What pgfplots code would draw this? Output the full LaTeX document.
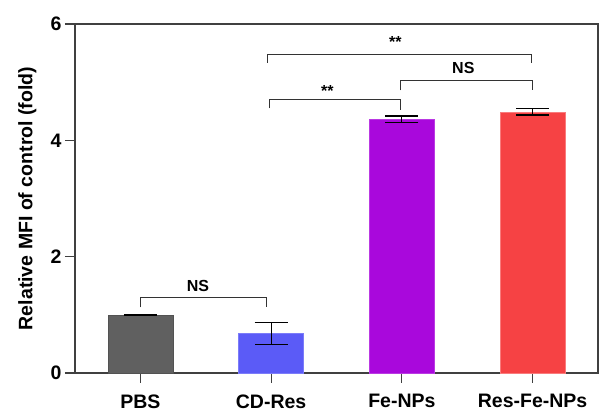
\documentclass[border=0pt]{standalone}
\usepackage{pgfplots}
\pgfplotsset{compat=1.18}
\usepackage{fontspec}
\setmainfont{Liberation Sans}
\definecolor{cpbs}{HTML}{606060}
\definecolor{ccd}{HTML}{5B5BF7}
\definecolor{cfe}{HTML}{A908DC}
\definecolor{cres}{HTML}{F64244}
\definecolor{axc}{HTML}{404040}
\begin{document}
\begin{tikzpicture}
\begin{axis}[
  scale only axis, width=523pt, height=349pt,
  xmin=-0.5, xmax=3.5, ymin=0, ymax=6,
  xtick={0,1,2,3},
  xticklabels={PBS,CD-Res,Fe-NPs,Res-Fe-NPs},
  ytick={0,2,4,6},
  tick align=outside,
  xtick pos=bottom, ytick pos=left,
  major tick length=10pt,
  minor tick num=0,
  axis line style={axc, line width=1.4pt},
  every tick/.style={axc, line width=1.2pt},
  /pgf/number format/assume math mode=true,
  tick label style={font=\fontsize{19.5}{23}\selectfont\bfseries},
  xticklabel style={yshift=-8pt},
  ylabel={Relative MFI of control (fold)},
  ylabel style={font=\fontsize{19.5}{23}\selectfont\bfseries, at={(axis description cs:0,0.5)}, anchor=south, yshift=35pt},
  ybar, bar width=65pt, bar shift=0pt,
  error bars/y dir=both, error bars/y explicit,
  error bars/error bar style={black, line width=1.2pt},
  error bars/error mark options={rotate=90, mark size=16.5pt, line width=1.2pt, black},
  clip=false,
]
\addplot[fill=cpbs, draw=cpbs!85!black] coordinates {(0,1.0) +- (0,0.012)};
\addplot[fill=ccd, draw=ccd!80!white] coordinates {(1,0.68) +- (0,0.195)};
\addplot[fill=cfe, draw=cfe!80!white] coordinates {(2,4.36) +- (0,0.06)};
\addplot[fill=cres, draw=cres!70!white] coordinates {(3,4.49) +- (0,0.055)};
% significance brackets
\draw[black!80, line width=1pt] (axis cs:0,1.13) -- (axis cs:0,1.30) -- (axis cs:0.966,1.30) -- (axis cs:0.966,1.13);
\node[font=\fontsize{16}{18}\selectfont\bfseries, inner sep=0pt] at (axis cs:0.44,1.50) {NS};
\draw[black!80, line width=1pt] (axis cs:0.99,4.55) -- (axis cs:0.99,4.70) -- (axis cs:1.99,4.70) -- (axis cs:1.99,4.53);
\node[font=\fontsize{16}{18}\selectfont\bfseries, inner sep=0pt, anchor=north] at (axis cs:1.43,4.95) {**};
\draw[black!80, line width=1pt] (axis cs:0.97,5.33) -- (axis cs:0.97,5.48) -- (axis cs:2.99,5.48) -- (axis cs:2.99,5.33);
\node[font=\fontsize{16}{18}\selectfont\bfseries, inner sep=0pt, anchor=north] at (axis cs:1.95,5.79) {**};
\draw[black!80, line width=1pt] (axis cs:1.99,4.86) -- (axis cs:1.99,5.03) -- (axis cs:3.0,5.03) -- (axis cs:3.0,4.86);
\node[font=\fontsize{16}{18}\selectfont\bfseries, inner sep=0pt] at (axis cs:2.47,5.24) {NS};
\end{axis}
\draw[black!75, line width=1.6pt] (current axis.north west) -- (current axis.north east) -- (current axis.south east);
\path (current axis.south west) ++(-75pt,-42pt) coordinate (bbsw);
\path (current axis.south west) ++(528pt,373pt) coordinate (bbne);
\pgfresetboundingbox
\path[use as bounding box] (bbsw) rectangle (bbne);
\end{tikzpicture}
\end{document}
